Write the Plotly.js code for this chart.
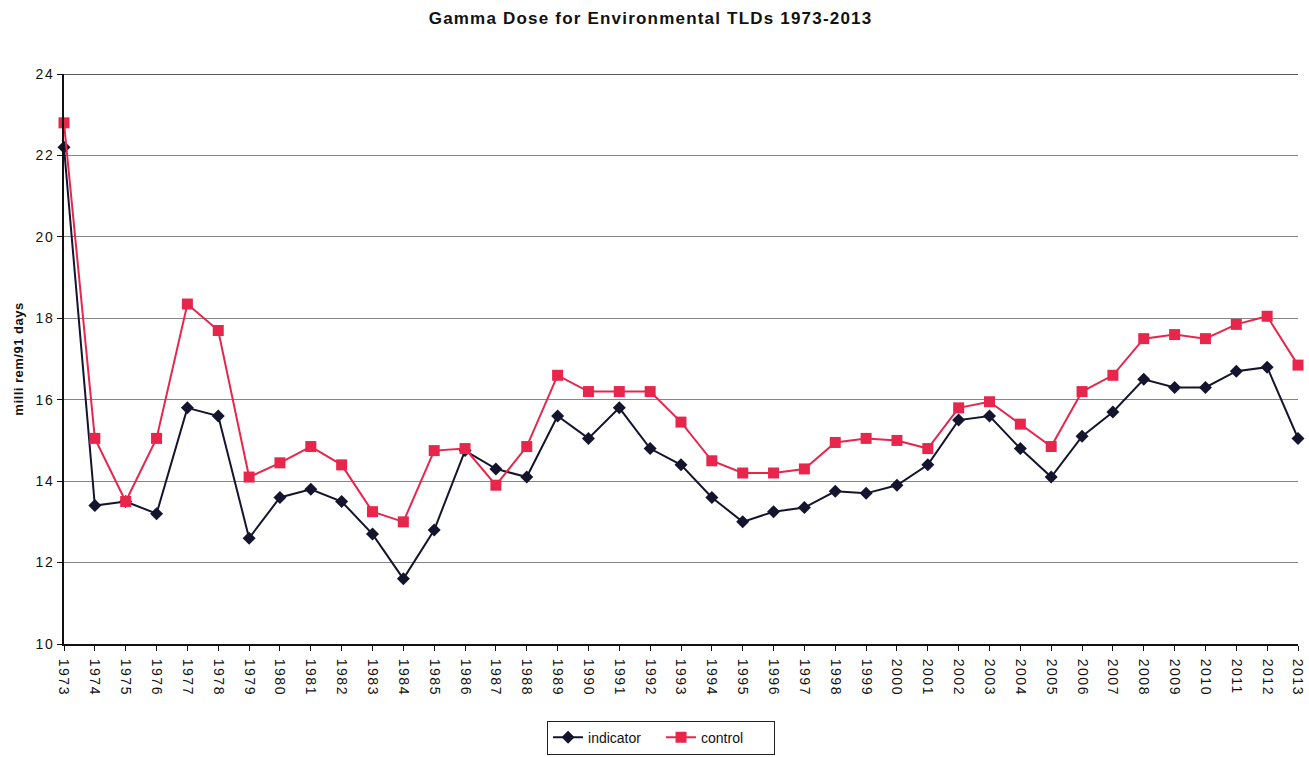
<!DOCTYPE html>
<html>
<head>
<meta charset="utf-8">
<script src="https://cdn.plot.ly/plotly-3.0.1.min.js"></script>
<style>
html,body{margin:0;padding:0;background:#fff;}
#chart{width:1309px;height:757px;}
#chart .gtitle{letter-spacing:1.2px;}
#chart .xtick text, #chart .ytick text{letter-spacing:1.5px;}
#chart .ytitle{letter-spacing:0.5px;}
</style>
</head>
<body>
<div id="chart"></div>
<script>
const years = [1973,1974,1975,1976,1977,1978,1979,1980,1981,1982,1983,1984,1985,1986,1987,1988,1989,1990,1991,1992,1993,1994,1995,1996,1997,1998,1999,2000,2001,2002,2003,2004,2005,2006,2007,2008,2009,2010,2011,2012,2013];
const indicator = [22.2,13.4,13.5,13.2,15.8,15.6,12.6,13.6,13.8,13.5,12.7,11.6,12.8,14.75,14.3,14.1,15.6,15.05,15.8,14.8,14.4,13.6,13.0,13.25,13.35,13.75,13.7,13.9,14.4,15.5,15.6,14.8,14.1,15.1,15.7,16.5,16.3,16.3,16.7,16.8,15.05];
const control = [22.8,15.05,13.5,15.05,18.35,17.7,14.1,14.45,14.85,14.4,13.25,13.0,14.75,14.8,13.9,14.85,16.6,16.2,16.2,16.2,15.45,14.5,14.2,14.2,14.3,14.95,15.05,15.0,14.8,15.8,15.95,15.4,14.85,16.2,16.6,17.5,17.6,17.5,17.85,18.05,16.85];
const seriesNames = ['indicator','control'];
const titleText = 'Gamma Dose for Environmental TLDs 1973-2013';
const yTitle = 'milli rem/91 days';

const traces = [
  {x: years, y: indicator, name: seriesNames[0], type: 'scatter', mode: 'lines+markers', cliponaxis: false,
   line: {color: '#14142e', width: 2}, marker: {symbol: 'diamond', size: 10, color: '#14142e'}},
  {x: years, y: control, name: seriesNames[1], type: 'scatter', mode: 'lines+markers', cliponaxis: false,
   line: {color: '#e8264c', width: 2}, marker: {symbol: 'square', size: 11, color: '#e8264c'}}
];

const layout = {
  width: 1309, height: 757,
  margin: {l: 64, r: 11, t: 74, b: 113, autoexpand: false},
  paper_bgcolor: '#fff', plot_bgcolor: '#fff',
  font: {family: 'Arial, Liberation Sans, sans-serif', color: '#111', size: 14},
  title: {text: '<b>' + titleText + '</b>', x: 0.497, xref: 'container', y: 0.976, yref: 'container', yanchor: 'middle',
          font: {size: 17, color: '#111'}},
  xaxis: {type: 'linear', range: [1973, 2013], dtick: 1, tick0: 1973, tickangle: 90, automargin: false,
          showgrid: false, zeroline: false, showline: true, linecolor: '#111', linewidth: 2,
          ticks: 'outside', ticklen: 5, tickcolor: '#111', tickfont: {size: 14}, ticklabelstandoff: 5},
  yaxis: {range: [10, 24], dtick: 2, showgrid: true, gridcolor: '#858585', gridwidth: 1, automargin: false,
          zeroline: false, showline: true, linecolor: '#111', linewidth: 2,
          ticks: 'outside', ticklen: 5, tickcolor: '#111', tickfont: {size: 14},
          title: {text: '<b>' + yTitle + '</b>', font: {size: 13, color: '#111'}, standoff: 12}},
  showlegend: true,
  legend: {orientation: 'h', x: 0.505, xref: 'container', xanchor: 'center', y: 0.003, yref: 'container', yanchor: 'bottom',
           bordercolor: '#222', borderwidth: 1, font: {size: 14}, bgcolor: '#fff', entrywidth: 68, tracegroupgap: 0},
  shapes: [{type: 'line', xref: 'paper', yref: 'y', x0: 0, x1: 1, y0: 24, y1: 24, line: {color: '#222', width: 1.5}}]
};

Plotly.newPlot('chart', traces, layout, {displayModeBar: false, staticPlot: true});
</script>
</body>
</html>
